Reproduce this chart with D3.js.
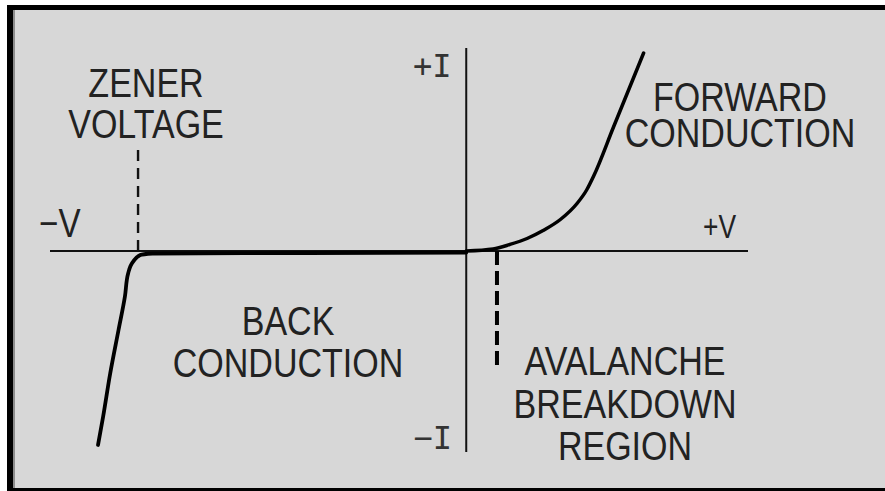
<!DOCTYPE html>
<html>
<head>
<meta charset="utf-8">
<script src="https://cdn.jsdelivr.net/npm/d3@7"></script>
<style>
  html, body { margin: 0; padding: 0; background: #fff; overflow: hidden; }
  svg { display: block; }
  text { font-family: "Liberation Sans", Arial, sans-serif; fill: #222; }
</style>
</head>
<body>
<div id="chart"></div>
<script>
// diode I-V characteristic, values in arbitrary volts / amps
var forwardV = [0, 0.42, 0.68, 0.95, 1.20, 1.47, 1.73, 1.88, 1.99, 2.30, 2.77];
var forwardI = [0, 0.04, 0.13, 0.25, 0.41, 0.63, 0.95, 1.22, 1.50, 2.48, 3.96];

var reverseV = [0, -2.5, -4.9, -5.09, -5.20, -5.28, -5.33, -5.43, -5.56, -5.67, -5.75];
var reverseI = [-0.03, -0.04, -0.05, -0.08, -0.21, -0.45, -0.91, -1.58, -2.45, -3.31, -3.88];

// dashed markers: [voltage, current at the far end]
var zenerMark = [-5.125, 2.06];
var avalancheMark = [0.48, -2.34];

var regionLabels = [
  ["ZENER", "VOLTAGE"],
  ["FORWARD", "CONDUCTION"],
  ["BACK", "CONDUCTION"],
  ["AVALANCHE", "BREAKDOWN", "REGION"]
];
var axisLabels = ["\u2212V", "+V", "+I", "\u2212I"];

let width = 885;
let height = 491;

var svg = d3.select("#chart")
  .append("svg")
  .attr("width", width)
  .attr("height", height);

// frame: black on left, top and bottom only
svg.append("rect").attr("x", 13).attr("y", 10).attr("width", width - 13).attr("height", 478).attr("fill", "#d7d7d7");
svg.append("rect").attr("x", 13).attr("y", 10).attr("width", 2).attr("height", 478).attr("fill", "#8c8c8c");
svg.append("rect").attr("x", 7).attr("y", 5).attr("width", 6).attr("height", height - 5).attr("fill", "#000");
svg.append("rect").attr("x", 7).attr("y", 5).attr("width", width - 7).attr("height", 5).attr("fill", "#000");
svg.append("rect").attr("x", 7).attr("y", 488).attr("width", width - 7).attr("height", 3).attr("fill", "#000");

var x = d3.scaleLinear().domain([-6.5, 4.4]).range([50, 748]);
var y = d3.scaleLinear().domain([-4.02, 4.06]).range([452, 48]);

// axes
svg.append("line")
  .attr("x1", x(-6.5)).attr("x2", x(4.4))
  .attr("y1", y(0)).attr("y2", y(0))
  .attr("stroke", "#111").attr("stroke-width", 2);
svg.append("line")
  .attr("x1", x(0)).attr("x2", x(0))
  .attr("y1", y(-4.02)).attr("y2", y(4.06))
  .attr("stroke", "#111").attr("stroke-width", 2);

// dashed markers
svg.append("line")
  .attr("x1", x(zenerMark[0])).attr("x2", x(zenerMark[0]))
  .attr("y1", y(0)).attr("y2", y(zenerMark[1]))
  .attr("stroke", "#111").attr("stroke-width", 2.4)
  .attr("stroke-dasharray", "11,7");
svg.append("line")
  .attr("x1", x(avalancheMark[0])).attr("x2", x(avalancheMark[0]))
  .attr("y1", y(0)).attr("y2", y(avalancheMark[1]))
  .attr("stroke", "#000").attr("stroke-width", 4)
  .attr("stroke-dasharray", "14,6");

// curves
var line = d3.line()
  .x(d => x(d[0]))
  .y(d => y(d[1]))
  .curve(d3.curveMonotoneX);

svg.append("path")
  .datum(forwardV.map((v, i) => [v, forwardI[i]]))
  .attr("d", line)
  .attr("fill", "none").attr("stroke", "#000")
  .attr("stroke-width", 3.5).attr("stroke-linecap", "round");

svg.append("path")
  .datum(reverseV.map((v, i) => [v, reverseI[i]]))
  .attr("d", line.curve(d3.curveMonotoneY))
  .attr("fill", "none").attr("stroke", "#000")
  .attr("stroke-width", 3.8).attr("stroke-linecap", "round");

// region labels: [centre x, first baseline, line step]
var labelPos = [[146, 97, 41], [740, 111, 36], [288, 335, 42], [625, 375, 42.5]];

regionLabels.forEach((lines, k) => {
  let p = labelPos[k];
  lines.forEach((t, j) => {
    svg.append("text")
      .attr("transform", "translate(" + p[0] + "," + (p[1] + j * p[2]) + ") scale(0.83,1)")
      .attr("text-anchor", "middle")
      .style("font-size", "41px")
      .text(t);
  });
});

// axis end labels
svg.append("text")
  .attr("transform", "translate(39,237) scale(0.83,1)")
  .style("font-size", "40px")
  .text(axisLabels[0]);
svg.append("text")
  .attr("transform", "translate(703,238) scale(0.8,1)")
  .style("font-size", "33px")
  .text(axisLabels[1]);
svg.append("text")
  .attr("x", 413).attr("y", 77)
  .style("font-family", "'DejaVu Sans Mono', monospace")
  .style("font-size", "32px")
  .style("fill", "#333")
  .text(axisLabels[2]);
svg.append("text")
  .attr("x", 452).attr("y", 449)
  .attr("text-anchor", "end")
  .style("font-family", "'DejaVu Sans Mono', monospace")
  .style("font-size", "32px")
  .style("fill", "#333")
  .text(axisLabels[3]);
</script>
</body>
</html>
